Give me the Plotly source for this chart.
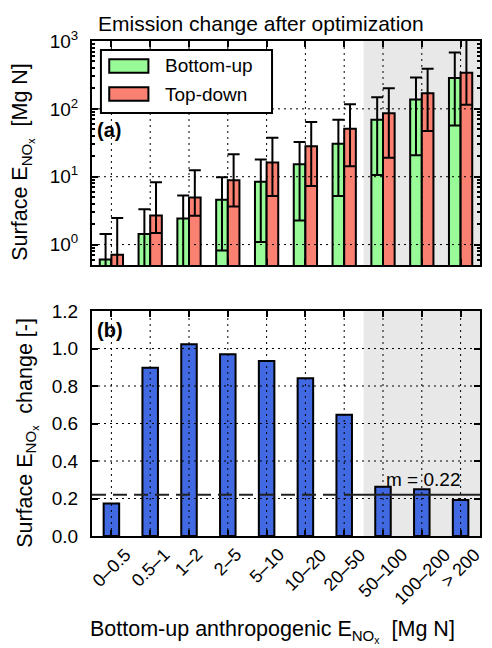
import plotly.graph_objects as go
import numpy as np

# ---------------- data ----------------
categories = ["0–0.5", "0.5–1", "1–2", "2–5", "5–10", "10–20", "20–50",
              "50–100", "100–200", "> 200"]
bottom_up = [0.60, 1.43, 2.43, 4.56, 8.45, 15.3, 30.7, 69, 137, 284]
bottom_up_hi = [1.43, 3.32, 5.27, 9.78, 17.9, 32.5, 69, 148, 291, 675]
bottom_up_lo = [0.3, 0.3, 0.3, 0.82, 1.09, 2.27, 5.21, 10.6, 20.8, 57]
top_down = [0.71, 2.69, 4.93, 8.84, 16.2, 28.1, 51, 86, 170, 340]
top_down_hi = [2.46, 8.26, 12.4, 21.5, 37.6, 63.8, 117, 201, 389, 1100]
top_down_lo = [0.3, 1.48, 2.66, 3.64, 5.21, 7.3, 14.3, 19, 47, 115]
change = [0.174, 0.897, 1.023, 0.970, 0.934, 0.842, 0.647, 0.263, 0.249, 0.192]
mean_change = 0.22
shade_from = 6.5          # grey region start (category index boundary)
log_ticks = [1, 10, 100, 1000]
log_ticktext = ["10<sup>0</sup>", "10<sup>1</sup>", "10<sup>2</sup>", "10<sup>3</sup>"]
lin_ticks = [0.0, 0.2, 0.4, 0.6, 0.8, 1.0, 1.2]

FONT = "Liberation Sans, Arial, sans-serif"
GREEN, RED, BLUE = "#98fb98", "#fa8072", "#4169e1"
n = len(categories)
idx = list(range(n))

def err(vals, hi, lo):
    plus = [h - v for v, h in zip(vals, hi)]
    minus = [v - l for v, l in zip(vals, lo)]
    return dict(type="data", symmetric=False, array=plus, arrayminus=minus,
                color="black", thickness=2, width=6)

series = [("Bottom-up", bottom_up, bottom_up_hi, bottom_up_lo, GREEN),
          ("Top-down", top_down, top_down_hi, top_down_lo, RED)]

fig = go.Figure()
for name, vals, hi, lo, col in series:
    fig.add_trace(go.Bar(x=categories, y=vals, name=name, showlegend=False,
                         marker=dict(color=col, line=dict(color="black", width=2)),
                         error_y=err(vals, hi, lo), xaxis="x", yaxis="y"))
fig.add_trace(go.Bar(x=categories, y=change, name="change", showlegend=False,
                     width=0.4,
                     marker=dict(color=BLUE, line=dict(color="black", width=2)),
                     xaxis="x2", yaxis="y2"))

shapes = []
# grey shading
for xr, yr in (("x", "y domain"), ("x2", "y2 domain")):
    shapes.append(dict(type="rect", xref=xr, yref=yr, x0=shade_from, x1=n - 0.5,
                       y0=0, y1=1, fillcolor="#e8e8e8", line=dict(width=0),
                       layer="below"))
# grid lines drawn above bars (as in the original)
grid_line = dict(color="black", width=1, dash="2px,4px")
for xr, yr in (("x", "y domain"), ("x2", "y2 domain")):
    for i in idx:
        shapes.append(dict(type="line", xref=xr, yref=yr, x0=i, x1=i, y0=0, y1=1,
                           line=grid_line, layer="above"))
for t in log_ticks[:-1]:
    shapes.append(dict(type="line", xref="x domain", yref="y", x0=0, x1=1, y0=t, y1=t,
                       line=grid_line, layer="above"))
for t in lin_ticks[1:-1]:
    shapes.append(dict(type="line", xref="x2 domain", yref="y2", x0=0, x1=1, y0=t, y1=t,
                       line=grid_line, layer="above"))
# mean line: dashed across the small emitters, solid across the large ones
shapes.append(dict(type="line", xref="x2", yref="y2", x0=-0.5, x1=6.2,
                   y0=mean_change, y1=mean_change,
                   line=dict(color="#222", width=2, dash="14px,7px"), layer="above"))
shapes.append(dict(type="line", xref="x2", yref="y2", x0=6.2, x1=n - 0.5,
                   y0=mean_change, y1=mean_change,
                   line=dict(color="#222", width=2), layer="above"))

# legend box (drawn by hand to get the wide matplotlib-style swatches)
shapes.append(dict(type="rect", xref="paper", yref="paper", x0=0.023, x1=0.464,
                   y0=0.8545, y1=0.9818, fillcolor="white",
                   line=dict(color="black", width=2), layer="above"))
legend_rows = [0.9495, 0.8929]
annotations = []
for (name, _, _, _, col), yc in zip(series, legend_rows):
    shapes.append(dict(type="rect", xref="paper", yref="paper", x0=0.0444, x1=0.1454,
                       y0=yc - 0.0136, y1=yc + 0.0136, fillcolor=col,
                       line=dict(color="black", width=2), layer="above"))
    annotations.append(dict(text=name, xref="paper", yref="paper", x=0.184, y=yc,
                            xanchor="left", yanchor="middle", showarrow=False,
                            font=dict(size=19)))

annotations += [
    dict(text="Emission change after optimization", xref="paper", yref="paper",
         x=0.436, y=1.036, xanchor="center", yanchor="middle", showarrow=False,
         font=dict(size=21, color="black")),
    dict(text="<b>(a)</b>", xref="paper", yref="paper", x=0.008, y=0.82,
         xanchor="left", yanchor="middle", showarrow=False, font=dict(size=20)),
    dict(text="<b>(b)</b>", xref="paper", yref="paper", x=0.008, y=0.416,
         xanchor="left", yanchor="middle", showarrow=False, font=dict(size=20)),
    dict(text="m = 0.22", xref="x2", yref="y2", x=8.04, y=0.30, showarrow=False,
         xanchor="center", yanchor="middle", font=dict(size=19)),
    dict(text="Bottom-up anthropogenic E<sub>NO<sub>x</sub></sub>\u00a0 [Mg N]",
         xref="paper", yref="paper", x=0.465, y=-0.193, showarrow=False,
         xanchor="center", yanchor="middle", font=dict(size=21.5)),
    dict(text="Surface E<sub>NO<sub>x</sub></sub>\u00a0 [Mg N]", textangle=-90,
         xref="paper", yref="paper", x=-0.178, y=0.756, showarrow=False,
         xanchor="center", yanchor="middle", font=dict(size=21.5)),
    dict(text="Surface E<sub>NO<sub>x</sub></sub>\u00a0 change [-]", textangle=-90,
         xref="paper", yref="paper", x=-0.168, y=0.208, showarrow=False,
         xanchor="center", yanchor="middle", font=dict(size=21.5)),
]
# rotated category labels, centred on their ticks
for c in categories:
    annotations.append(dict(text=c, xref="x2", yref="paper", x=c, y=-0.012,
                            textangle=-45, xanchor="center", yanchor="top",
                            showarrow=False, font=dict(size=18)))

minor_vals = [k * 10 ** d for d in range(-1, 3) for k in range(2, 10)]

axis_common = dict(showline=True, linecolor="black", linewidth=2, mirror="allticks",
                   ticks="inside", tickcolor="black", tickwidth=1.5, ticklen=6,
                   showgrid=False, zeroline=False, tickfont=dict(size=19))

# the page body adds an 8px offset, so the figure is 8px smaller than the window
fig.update_layout(
    width=484, height=640,
    margin=dict(l=84, r=10, t=33, b=112),
    paper_bgcolor="white", plot_bgcolor="white",
    font=dict(family=FONT, color="black", size=18),
    barmode="group", bargap=0.4, bargroupgap=0,
    showlegend=False,
    xaxis=dict(domain=[0, 1], anchor="y", type="category",
               categoryorder="array", categoryarray=categories,
               range=[-0.5, n - 0.5], showticklabels=False, **axis_common),
    yaxis=dict(domain=[0.5475, 1], anchor="x", type="log",
               range=[np.log10(0.5), 3], tickmode="array", tickvals=log_ticks,
               ticktext=log_ticktext, ticklabelstandoff=8,
               minor=dict(ticks="inside", ticklen=3, tickcolor="black",
                          tickmode="array", tickvals=minor_vals, showgrid=False),
               **axis_common),
    xaxis2=dict(domain=[0, 1], anchor="y2", type="category",
                categoryorder="array", categoryarray=categories,
                range=[-0.5, n - 0.5], showticklabels=False, **axis_common),
    yaxis2=dict(domain=[0, 0.4545], anchor="x2", range=[0, 1.2],
                tickmode="array", tickvals=lin_ticks, tickformat=".1f",
                ticklabelstandoff=8, **axis_common),
    shapes=shapes, annotations=annotations,
)

fig.write_html("out.html")
